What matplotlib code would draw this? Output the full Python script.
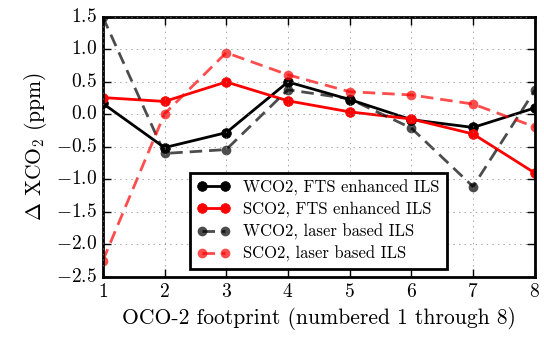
import matplotlib
matplotlib.use('Agg')
import matplotlib.pyplot as plt

plt.style.use('classic')
plt.rcParams['font.family'] = 'serif'
plt.rcParams['font.serif'] = ['cmr10']
plt.rcParams['mathtext.fontset'] = 'cm'
plt.rcParams['axes.formatter.use_mathtext'] = True
plt.rcParams['axes.unicode_minus'] = True

footprint = [1, 2, 3, 4, 5, 6, 7, 8]
wco2_fts = [0.17, -0.51, -0.28, 0.50, 0.23, -0.08, -0.20, 0.10]
sco2_fts = [0.26, 0.20, 0.50, 0.21, 0.04, -0.07, -0.30, -0.90]
wco2_laser = [1.50, -0.60, -0.54, 0.38, 0.24, -0.21, -1.11, 0.37]
sco2_laser = [-2.25, 0.01, 0.95, 0.61, 0.35, 0.30, 0.16, -0.19]

fig = plt.figure(figsize=(5.44, 3.39), dpi=100, facecolor='white')
ax = fig.add_axes([0.189, 0.183, 0.794, 0.767])

ax.plot(footprint, wco2_fts, color='k', lw=2, marker='o', ms=7, mec='k',
        label='WCO2, FTS enhanced ILS')
ax.plot(footprint, sco2_fts, color='r', lw=2, marker='o', ms=7, mec='r',
        label='SCO2, FTS enhanced ILS')
ax.plot(footprint, wco2_laser, color='k', alpha=0.7, lw=2, ls='--', dashes=(9, 5),
        marker='o', ms=7, mec='none', label='WCO2, laser based ILS')
ax.plot(footprint, sco2_laser, color='r', alpha=0.7, lw=2, ls='--', dashes=(9, 5),
        marker='o', ms=7, mec='none', label='SCO2, laser based ILS')

ax.set_xlim(1, 8)
ax.set_ylim(-2.5, 1.5)
ax.set_xticks(footprint)
ax.set_yticks([-2.5, -2.0, -1.5, -1.0, -0.5, 0.0, 0.5, 1.0, 1.5])
ax.grid(True, ls=':', color='gray')
ax.tick_params(labelsize=14, direction='in', length=6, width=1)
for s in ax.spines.values():
    s.set_linewidth(2)

ax.set_xlabel('OCO-2 footprint (numbered 1 through 8)', fontsize=15.5)
ax.set_ylabel(r'$\Delta$ XCO$_2$ (ppm)', fontsize=15.5)

leg = ax.legend(loc='lower center', bbox_to_anchor=(0.499, 0.0), fontsize=12,
                numpoints=2, fancybox=False, handlelength=2.0, labelspacing=0.35,
                borderpad=0.4)
leg.get_frame().set_linewidth(2)
leg.get_frame().set_edgecolor('k')

fig.savefig('out.png', dpi=100, facecolor='white')
